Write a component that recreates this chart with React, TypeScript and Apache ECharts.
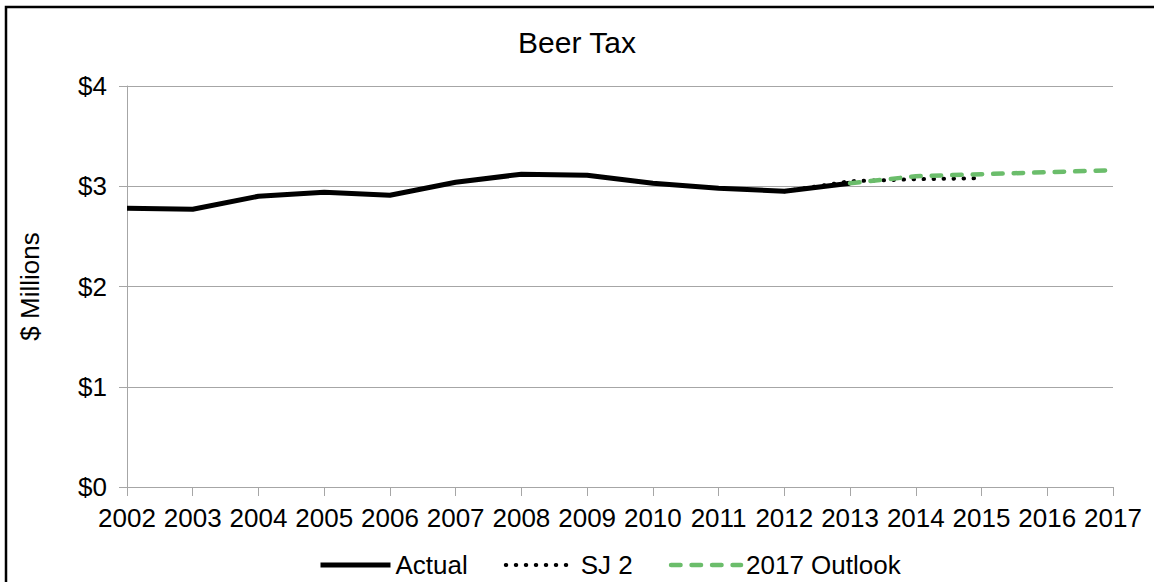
import React, { useEffect, useRef } from "react";
import * as echarts from "echarts";

// Fiscal years on the category axis
const years = [
  "2002", "2003", "2004", "2005", "2006", "2007", "2008", "2009",
  "2010", "2011", "2012", "2013", "2014", "2015", "2016", "2017",
];

// Beer tax revenue, $ millions
const actual = [2.78, 2.77, 2.9, 2.94, 2.91, 3.04, 3.12, 3.11, 3.03, 2.98, 2.95, 3.03, null, null, null, null];
const sj2 = [null, null, null, null, null, null, null, null, null, null, 2.95, 3.05, 3.07, 3.08, null, null];
const outlook2017 = [null, null, null, null, null, null, null, null, null, null, null, 3.03, 3.1, 3.12, 3.14, 3.16];

const yTicks = [0, 1, 2, 3, 4];

const FONT = "'Liberation Sans', Arial, sans-serif";
const GRID_COLOR = "#a6a6a6";
const GREEN = "#6bbd6b";

const actualLine = { color: "#000", width: 5, join: "round" as const };
const sj2Line = { color: "#000", width: 4, type: [0.5, 9.5], cap: "round" as const };
const outlookLine = { color: GREEN, width: 4.5, type: [9.5, 11], cap: "round" as const };

export default function App() {
  const ref = useRef<HTMLDivElement>(null);

  useEffect(() => {
    if (!ref.current) return;
    const chart = echarts.init(ref.current, undefined, { renderer: "svg" });
    chart.setOption({
      animation: false,
      backgroundColor: "#ffffff",
      textStyle: { fontFamily: FONT, color: "#000" },
      title: {
        text: "Beer Tax",
        left: "center",
        top: 27,
        padding: 0,
        textStyle: { fontFamily: FONT, fontSize: 30, fontWeight: "normal", color: "#000" },
      },
      graphic: [
        {
          type: "rect",
          shape: { x: 6, y: 7, width: 1300, height: 800 },
          style: { fill: "none", stroke: "#000", lineWidth: 2.5 },
          silent: true,
        },
      ],
      legend: {
        left: 318,
        top: 552,
        padding: 0,
        itemWidth: 70,
        itemHeight: 14,
        itemGap: 36,
        itemStyle: { opacity: 0 },
        textStyle: { fontFamily: FONT, fontSize: 26, color: "#000" },
        data: [
          { name: "Actual", lineStyle: actualLine },
          { name: "SJ 2", lineStyle: sj2Line },
          { name: "2017 Outlook", lineStyle: outlookLine },
        ],
      },
      grid: { left: 127, right: 41, top: 86, bottom: 95, containLabel: false },
      xAxis: {
        type: "category",
        data: years,
        boundaryGap: false,
        axisLine: { lineStyle: { color: GRID_COLOR, width: 1 } },
        axisTick: { length: 9, lineStyle: { color: GRID_COLOR } },
        axisLabel: { interval: 0, margin: 18, fontFamily: FONT, fontSize: 26, color: "#000" },
        splitLine: { show: false },
      },
      yAxis: {
        type: "value",
        min: yTicks[0],
        max: yTicks[yTicks.length - 1],
        interval: 1,
        name: "$ Millions",
        nameLocation: "middle",
        nameGap: 84,
        nameTextStyle: { fontFamily: FONT, fontSize: 26, color: "#000" },
        axisLine: { show: true, lineStyle: { color: GRID_COLOR, width: 1 } },
        axisTick: { show: true, length: 8, lineStyle: { color: GRID_COLOR } },
        axisLabel: {
          margin: 20,
          fontFamily: FONT,
          fontSize: 26,
          color: "#000",
          formatter: (v: number) => "$" + v,
        },
        splitLine: { lineStyle: { color: GRID_COLOR, width: 1 } },
      },
      series: [
        {
          name: "Actual",
          type: "line",
          data: actual,
          symbol: "none",
          lineStyle: actualLine,
          itemStyle: { color: "#000" },
        },
        {
          name: "SJ 2",
          type: "line",
          data: sj2,
          symbol: "none",
          lineStyle: sj2Line,
          itemStyle: { color: "#000" },
        },
        {
          name: "2017 Outlook",
          type: "line",
          data: outlook2017,
          symbol: "none",
          lineStyle: outlookLine,
          itemStyle: { color: GREEN },
        },
      ],
    });
    return () => chart.dispose();
  }, []);

  return (
    <div
      ref={ref}
      style={{ position: "fixed", left: 0, top: 0, width: 1154, height: 582, background: "#fff" }}
    />
  );
}
